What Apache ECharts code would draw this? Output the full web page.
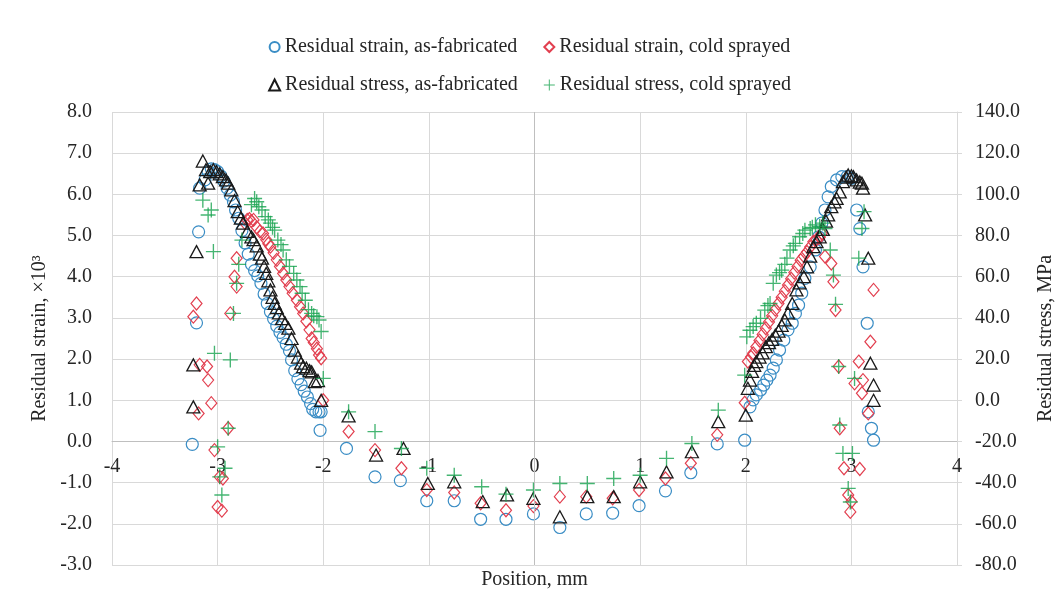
<!DOCTYPE html>
<html><head><meta charset="utf-8">
<script src="https://cdn.jsdelivr.net/npm/echarts@6/dist/echarts.min.js"></script>
<style>html,body{margin:0;padding:0;background:#fff}#c{width:1059px;height:606px}</style>
</head><body><div id="c"></div>
<script>
// ---- data ----
const seriesNames = [
  'Residual strain, as-fabricated',
  'Residual strain, cold sprayed',
  'Residual stress, as-fabricated',
  'Residual stress, cold sprayed'
];
const axisTitles = { x: 'Position, mm', left: 'Residual strain, \u00d710\u00b3', right: 'Residual stress, MPa' };

// Residual strain (x10^3), as-fabricated  [position mm, strain]
const strainAsFab = [
  [-3.24,-0.07],[-3.20,2.88],[-3.18,5.09],[-3.17,6.15],
  [-3.12,6.35],[-3.09,6.55],[-3.06,6.62],[-3.03,6.6],[-3.00,6.55],[-2.97,6.45],[-2.94,6.32],[-2.91,6.15],
  [-2.88,5.98],[-2.85,5.82],[-2.83,5.62],[-2.80,5.42],[-2.77,5.12],[-2.74,4.82],[-2.71,4.55],[-2.68,4.3],
  [-2.65,4.15],[-2.62,4.02],[-2.59,3.84],[-2.56,3.58],[-2.53,3.35],[-2.50,3.15],[-2.47,2.98],[-2.44,2.8],
  [-2.41,2.65],[-2.38,2.52],[-2.35,2.36],[-2.32,2.2],[-2.30,1.98],[-2.27,1.72],[-2.24,1.52],[-2.21,1.38],
  [-2.18,1.22],[-2.15,1.08],[-2.12,0.92],[-2.10,0.78],[-2.07,0.72],[-2.04,0.72],[-2.02,0.72],[-2.03,0.27],
  [-1.78,-0.17],[-1.51,-0.86],[-1.27,-0.95],[-1.02,-1.44],[-0.76,-1.44],[-0.51,-1.89],[-0.27,-1.89],
  [-0.01,-1.76],[0.24,-2.09],[0.49,-1.76],[0.74,-1.74],[0.99,-1.56],[1.24,-1.20],[1.48,-0.76],[1.73,-0.06],
  [1.99,0.03],
  [2.04,0.84],[2.07,1.01],[2.10,1.13],[2.14,1.25],[2.17,1.37],[2.20,1.49],[2.23,1.61],[2.26,1.78],
  [2.29,1.98],[2.32,2.22],[2.36,2.46],[2.40,2.71],[2.44,2.87],[2.47,3.11],[2.50,3.31],[2.53,3.6],
  [2.56,3.96],[2.61,4.24],[2.66,4.65],[2.69,4.97],[2.72,5.30],[2.75,5.62],[2.78,5.94],[2.81,6.19],
  [2.86,6.35],[2.91,6.43],[2.96,6.43],[3.00,6.39],
  [3.05,5.62],[3.08,5.17],[3.11,4.24],[3.15,2.87],[3.16,0.72],[3.19,0.32],[3.21,0.03]
];

// Residual strain (x10^3), cold sprayed
const strainColdSpray = [
  [-3.23,3.03],[-3.20,3.35],[-3.18,0.68],[-3.17,1.86],[-3.10,1.82],[-3.09,1.49],[-3.06,0.93],
  [-3.03,-0.21],[-2.98,-0.86],[-2.95,-0.90],[-3.00,-1.59],[-2.96,-1.68],[-2.90,0.32],[-2.88,3.11],
  [-2.84,4.0],[-2.82,3.76],[-2.82,4.45],
  [-2.74,5.3],[-2.72,5.38],[-2.70,5.4],[-2.68,5.35],[-2.66,5.38],[-2.63,5.2],[-2.60,5.1],[-2.57,5.05],
  [-2.54,4.9],[-2.52,4.8],[-2.50,4.73],[-2.47,4.58],[-2.44,4.41],[-2.41,4.25],[-2.38,4.08],[-2.35,3.92],
  [-2.32,3.76],[-2.29,3.6],[-2.25,3.43],[-2.22,3.27],[-2.19,3.11],[-2.16,2.92],[-2.13,2.71],[-2.11,2.5],
  [-2.09,2.4],[-2.06,2.25],[-2.04,2.1],[-2.02,2.02],[-2.00,1.00],
  [-1.76,0.24],[-1.51,-0.21],[-1.26,-0.65],[-1.02,-1.18],[-0.76,-1.24],[-0.51,-1.50],[-0.27,-1.67],
  [-0.01,-1.57],[0.24,-1.34],[0.49,-1.34],[0.74,-1.38],[0.99,-1.18],[1.24,-0.90],[1.48,-0.53],[1.73,0.16],
  [1.99,0.94],
  [2.02,1.94],[2.05,2.05],[2.07,2.14],[2.10,2.3],[2.13,2.45],[2.16,2.6],[2.19,2.75],[2.22,2.9],
  [2.25,3.05],[2.28,3.2],[2.31,3.35],[2.34,3.5],[2.37,3.65],[2.40,3.8],[2.43,3.95],[2.46,4.1],
  [2.49,4.25],[2.52,4.4],[2.55,4.5],[2.58,4.6],[2.61,4.72],[2.64,4.85],[2.67,4.9],[2.70,4.95],[2.72,5.05],
  [2.75,4.49],[2.81,4.32],[2.83,3.88],[2.85,3.19],[2.88,1.82],[2.89,0.32],[2.93,-0.65],[2.97,-1.30],
  [3.00,-1.46],[2.99,-1.71],[3.03,1.41],[3.07,1.94],[3.10,1.17],[3.11,1.49],[3.08,-0.67],[3.16,0.68],
  [3.18,2.42],[3.21,3.68]
];

// Residual stress (MPa), as-fabricated
const stressAsFab = [
  [-3.23,-3.2],[-3.23,17.2],[-3.20,72.2],[-3.17,104.6],[-3.14,116.2],[-3.11,112],[-3.09,105.4],[-3.07,111],
  [-3.04,112],[-3.01,111],[-2.98,110],[-2.95,108.6],[-2.92,107],[-2.90,105.4],[-2.87,102.2],[-2.84,97],
  [-2.81,91.6],[-2.78,88.4],[-2.76,86],[-2.72,82],[-2.68,79.4],[-2.66,78],[-2.63,75],[-2.60,71],[-2.58,69],
  [-2.56,65],[-2.54,61.6],[-2.52,58],[-2.50,53.6],[-2.48,50],[-2.46,47],[-2.44,45],[-2.42,42.4],[-2.39,39.6],
  [-2.36,37.4],[-2.33,35],[-2.30,30],[-2.27,24.4],[-2.24,21],[-2.21,18],[-2.19,16.4],[-2.16,15.6],
  [-2.13,14.4],[-2.11,13.8],[-2.08,9],[-2.05,9.6],[-2.02,0],
  [-1.76,-7.6],[-1.50,-26.6],[-1.24,-23.4],[-1.01,-40.4],[-0.76,-39.6],[-0.49,-49.2],[-0.26,-46],
  [-0.01,-47.6],[0.24,-56.6],[0.50,-46.8],[0.75,-46.8],[1.00,-39.6],[1.25,-34.8],[1.49,-25],[1.74,-10.4],
  [2.00,-7.2],
  [2.02,5.8],[2.04,9.8],[2.06,14],[2.08,17],[2.10,18.8],[2.13,21],[2.16,23],[2.19,26],[2.22,28],[2.25,29.6],
  [2.28,31.6],[2.31,33.6],[2.34,36.4],[2.37,39],[2.40,42.4],[2.44,47],[2.48,53.6],[2.51,57],[2.55,60],
  [2.58,64.8],[2.61,70],[2.64,74.6],[2.67,77],[2.70,79.4],[2.73,83],[2.76,87],[2.78,90],[2.81,94],
  [2.84,96.4],[2.86,98],[2.89,101.2],[2.92,106.2],[2.95,108.4],[2.97,109.4],[3.00,109],[3.02,108.6],
  [3.05,107],[3.08,106],[3.10,105.4],[3.11,103],
  [3.13,90],[3.16,69],[3.18,18],[3.21,7.4],[3.21,0]
];

// Residual stress (MPa), cold sprayed
const stressColdSpray = [
  [-3.14,97.2],[-3.09,90],[-3.06,92.4],[-3.04,72.2],[-3.03,22.8],[-3.00,-22.6],[-2.98,-37.2],[-2.96,-46],
  [-2.93,-33],[-2.90,-13.6],[-2.88,19.6],[-2.85,42.2],[-2.82,56.8],[-2.80,66],[-2.77,77.8],
  [-2.68,95],[-2.65,98],[-2.63,96.4],[-2.61,94],[-2.58,92.4],[-2.55,89.2],[-2.52,87.6],[-2.50,86],
  [-2.48,84],[-2.46,82.6],[-2.43,77.8],[-2.40,75.6],[-2.38,73],[-2.35,68.2],[-2.32,65],[-2.28,61.6],
  [-2.25,58.4],[-2.22,55.2],[-2.20,52],[-2.17,48.6],[-2.14,44],[-2.11,42.2],[-2.09,41],[-2.06,40.6],
  [-2.04,39],[-2.02,33.4],[-2.00,10.6],
  [-1.76,-5.6],[-1.51,-15.2],[-1.26,-23.4],[-1.02,-33],[-0.76,-36.4],[-0.50,-42],[-0.27,-45.6],
  [-0.01,-43.6],[0.24,-40.4],[0.50,-40.4],[0.75,-38],[1.00,-36.4],[1.25,-28.2],[1.49,-21],[1.74,-4.8],
  [1.99,12.2],
  [2.01,30.8],[2.04,34],[2.07,35.8],[2.10,37.4],[2.14,39.8],[2.18,43.8],[2.21,46],[2.23,47],[2.26,56.8],
  [2.29,60.8],[2.32,62],[2.34,63.2],[2.37,66],[2.39,69],[2.42,73],[2.45,75],[2.47,76.2],[2.51,79.4],
  [2.54,81],[2.56,82.6],[2.61,83.4],[2.63,84],[2.66,85.2],[2.70,84.4],[2.73,86],[2.75,83.4],
  [2.80,73],[2.83,60.8],[2.85,46.6],[2.88,16.4],[2.89,-12],[2.92,-25.8],[2.97,-42.8],[2.99,-49.4],
  [3.01,-25.8],[3.03,10.6],[3.07,69],[3.10,83.4],[3.12,91.6]
];

// axis scales / tick labels
const xRange = { min: -4, max: 4, step: 1 };
const strainRange = { min: -3, max: 8, step: 1 };
const stressRange = { min: -80, max: 140, step: 20 };

// ---- chart ----
const FONT = 'Liberation Serif';
const FS = 20;
const TXT = '#262626';
const GRID = '#d9d9d9';
const colors = ['#3a8dc5', '#e23f4f', '#1a1a1a', '#17a34f'];
const plusPath = 'path://M9.1,0H10.9V9.1H20V10.9H10.9V20H9.1V10.9H0V9.1H9.1Z';

const GRID_TOP = 112, GRID_BOTTOM = 41, H = 606;
const plotH = H - GRID_TOP - GRID_BOTTOM;
// distance from bottom edge of plot to the zero line of the strain axis
const zeroOffset = plotH * (0 - strainRange.min) / (strainRange.max - strainRange.min);

const chart = echarts.init(document.getElementById('c'), null, { renderer: 'canvas' });

function hollow(c, w) { return { color: 'rgba(0,0,0,0)', borderColor: c, borderWidth: w, opacity: 1 }; }

const option = {
  backgroundColor: '#ffffff',
  animation: false,
  textStyle: { fontFamily: FONT, color: TXT },
  grid: { left: 112, right: 102, top: GRID_TOP, bottom: GRID_BOTTOM, containLabel: false, outerBoundsMode: 'none' },
  legend: [
    { data: [seriesNames[0], seriesNames[1]], top: 32, left: 'center', itemWidth: 10, itemHeight: 10, itemGap: 26,
      textStyle: { fontFamily: FONT, fontSize: FS, color: TXT }, selectedMode: false },
    { data: [seriesNames[2], seriesNames[3]], top: 70, left: 'center', itemWidth: 11, itemHeight: 11, itemGap: 26,
      textStyle: { fontFamily: FONT, fontSize: FS, color: TXT }, selectedMode: false }
  ],
  xAxis: {
    type: 'value', min: xRange.min, max: xRange.max, interval: xRange.step,
    position: 'bottom', offset: -zeroOffset,
    axisLine: { show: true, onZero: false, lineStyle: { color: '#bfbfbf', width: 1 } },
    axisTick: { show: false },
    axisLabel: { fontFamily: FONT, fontSize: FS, color: TXT, margin: 15, showMinLabel: true, showMaxLabel: true },
    splitLine: { show: true, lineStyle: { color: GRID, width: 1 } }
  },
  yAxis: [
    {
      type: 'value', min: strainRange.min, max: strainRange.max, interval: strainRange.step, position: 'left',
      name: axisTitles.left, nameLocation: 'middle', nameGap: 52, nameRotate: 90,
      nameTextStyle: { fontFamily: FONT, fontSize: FS, color: TXT },
      axisLine: { show: false, onZero: false }, axisTick: { show: false },
      axisLabel: { fontFamily: FONT, fontSize: FS, color: TXT, margin: 20, formatter: v => v.toFixed(1) },
      splitLine: { show: true, lineStyle: { color: GRID, width: 1 } }
    },
    {
      type: 'value', min: stressRange.min, max: stressRange.max, interval: stressRange.step, position: 'right',
      name: axisTitles.right, nameLocation: 'middle', nameGap: 79, nameRotate: 90,
      nameTextStyle: { fontFamily: FONT, fontSize: FS, color: TXT },
      axisLine: { show: true, onZero: false, lineStyle: { color: GRID } },
      axisTick: { show: true, length: 5, lineStyle: { color: GRID } },
      axisLabel: { fontFamily: FONT, fontSize: FS, color: TXT, margin: 18, formatter: v => v.toFixed(1) },
      splitLine: { show: false }
    }
  ],
  graphic: [
    { type: 'text', x: 534.5, y: 580, style: { text: axisTitles.x, font: FS + 'px "Liberation Serif"', fill: TXT, align: 'center', verticalAlign: 'middle' } }
  ],
  series: [
    { name: seriesNames[0], type: 'scatter', yAxisIndex: 0, data: strainAsFab, symbol: 'circle', symbolSize: 12,
      itemStyle: hollow(colors[0], 1.2),
      markLine: { silent: true, symbol: 'none', label: { show: false }, animation: false,
        lineStyle: { color: '#bfbfbf', type: 'solid', width: 1 }, data: [{ xAxis: 0 }] } },
    { name: seriesNames[1], type: 'scatter', yAxisIndex: 0, data: strainColdSpray, symbol: 'diamond', symbolSize: [11, 13],
      itemStyle: hollow(colors[1], 1.2) },
    { name: seriesNames[2], type: 'scatter', yAxisIndex: 1, data: stressAsFab, symbol: 'triangle', symbolSize: [13, 12],
      itemStyle: hollow(colors[2], 1.3) },
    { name: seriesNames[3], type: 'scatter', yAxisIndex: 1, data: stressColdSpray, symbol: plusPath, symbolSize: 15,
      itemStyle: { color: colors[3] } }
  ]
};
chart.setOption(option);
</script></body></html>
